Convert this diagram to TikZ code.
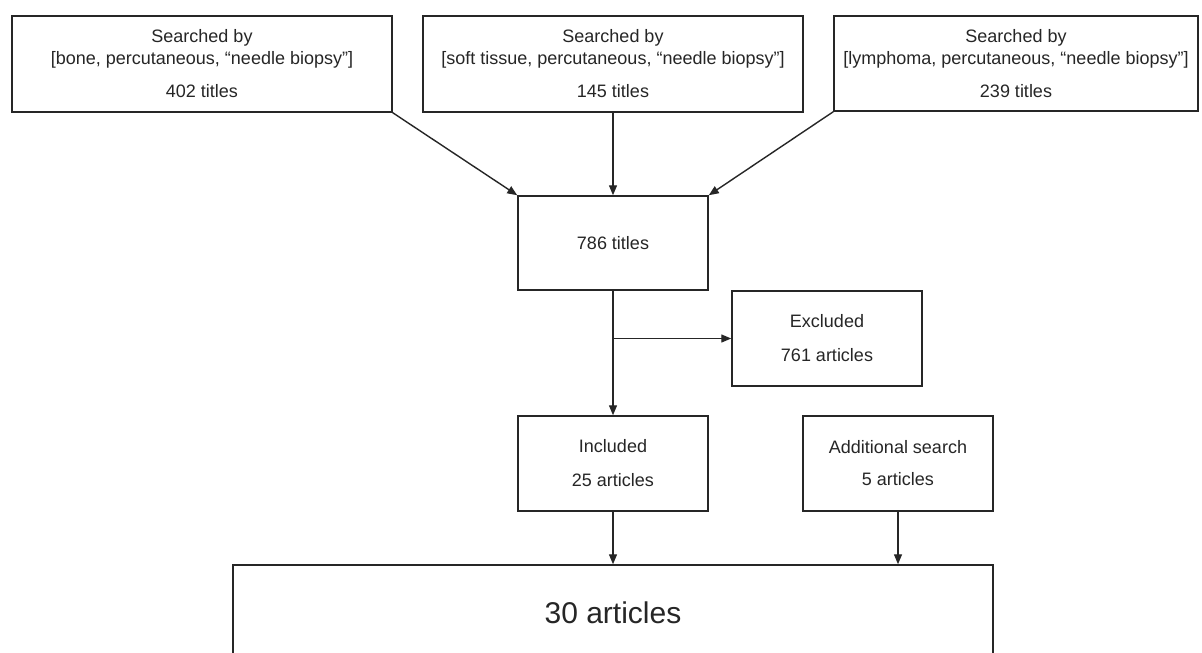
\documentclass[tikz,border=0pt]{standalone}
\usepackage{fontspec}
\setmainfont{Liberation Sans}
\usetikzlibrary{arrows.meta}
\tikzset{
  box/.style={draw=black!85, line width=1.5pt, align=center, inner sep=0pt,
    font=\fontsize{18pt}{22pt}\selectfont, text=black!85},
  conn/.style={draw=black!85, line width=1.4pt, -{Triangle[length=10pt,width=8pt]}},
}
\begin{document}
\begin{tikzpicture}[x=1pt,y=-1pt]
\useasboundingbox (0,0) rectangle (1202,653);
\clip (0,0) rectangle (1202,653);
\fill[white] (0,0) rectangle (1202,653);
\node[box, minimum width=380pt, minimum height=96pt] (b1) at (202,64)
  {Searched by\\{[}bone, percutaneous, “needle biopsy”{]}\\[11pt]402 titles};
\node[box, minimum width=380pt, minimum height=96pt] (b2) at (613,64)
  {Searched by\\{[}soft tissue, percutaneous, “needle biopsy”{]}\\[11pt]145 titles};
\node[box, minimum width=364pt, minimum height=95pt] (b3) at (1016,63.5)
  {Searched by\\{[}lymphoma, percutaneous, “needle biopsy”{]}\\[11pt]239 titles};
\node[box, minimum width=190pt, minimum height=94pt] (t786) at (613,243)
  {786 titles};
\node[box, minimum width=190pt, minimum height=95pt] (exc) at (827,338.5)
  {Excluded\\[12pt]761 articles};
\node[box, minimum width=190pt, minimum height=95pt] (inc) at (613,463.5)
  {Included\\[12pt]25 articles};
\node[box, minimum width=190pt, minimum height=95pt] (add) at (898,463.5)
  {Additional search\\[10pt]5 articles};
\node[box, minimum width=760pt, minimum height=96pt, font=\fontsize{30pt}{34pt}\selectfont] (fin) at (613,613)
  {30 articles};
\coordinate (br) at (613,338.5);
\draw[conn] (b1.south east) -- (t786.north west);
\draw[conn] (b2.south) -- (t786.north);
\draw[conn] (b3.south west) -- (t786.north east);
\draw[conn] (t786.south) -- (inc.north);
\draw[conn] (br) -- (br -| exc.west);
\draw[conn] (inc.south) -- (fin.north -| inc.south);
\draw[conn] (add.south) -- (fin.north -| add.south);
\end{tikzpicture}
\end{document}
